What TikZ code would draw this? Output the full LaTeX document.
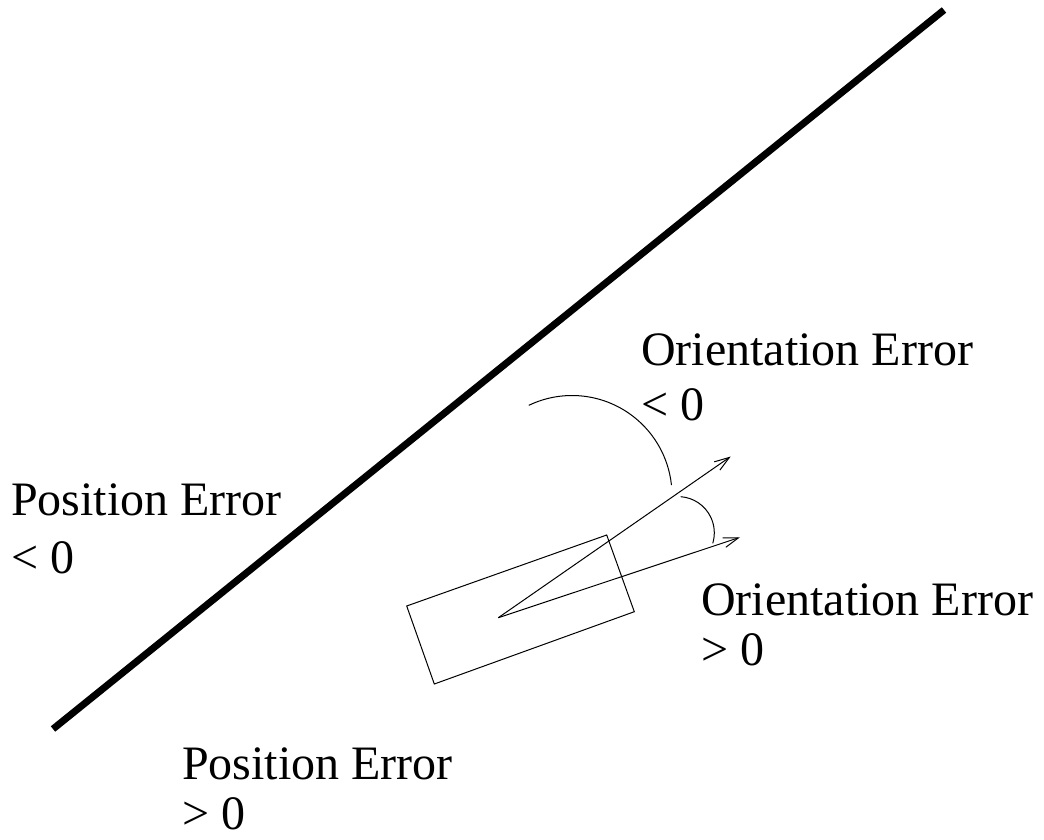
\documentclass[tikz,border=0pt]{standalone}
\usepackage{fontspec}
\setmainfont{Liberation Serif}
\usetikzlibrary{arrows.meta}
\tikzset{
  thin line/.style={line width=1pt, black},
  wall/.style={line width=7pt, black},
  vec/.style={thin line, -{Straight Barb[length=15pt,width=10pt,line width=1pt]}},
  lbl/.style={anchor=base west, inner sep=0pt, text depth=0pt, font=\fontsize{48}{56}\selectfont}
}
\begin{document}
\begin{tikzpicture}[x=1pt,y=-1pt]
\useasboundingbox (0,0) rectangle (1044,840);
% wall line
\coordinate (w1) at (53,729);
\coordinate (w2) at (944,10);
\draw[wall] (w1) -- (w2);
% robot body
\coordinate (r1) at (406.7,606);
\coordinate (r2) at (606.7,535);
\coordinate (r3) at (634.3,611.7);
\coordinate (r4) at (434.3,684);
\draw[thin line] (r1) -- (r2) -- (r3) -- (r4) -- cycle;
% orientation vectors
\coordinate (o) at (498.3,617.7);
\coordinate (t1) at (730.7,456.5);
\coordinate (t2) at (740,537.3);
\draw[vec] (o) -- (t1);
\draw[vec] (o) -- (t2);
% angle arcs
\draw[thin line] ([shift={(-115.6:100)}]572,495.5) arc[start angle=-115.6, end angle=-6, radius=100];
\draw[thin line] ([shift={(-85.9:36.2)}]678.1,532.8) arc[start angle=-85.9, end angle=16.9, radius=36.2];
% labels
\node[lbl] (oe1a) at (641,365) {Orientation Error};
\node[lbl] (oe1b) at (641,420) {< 0};
\node[lbl] (pe1a) at (11,515) {Position Error};
\node[lbl] (pe1b) at (11,573) {< 0};
\node[lbl] (oe2a) at (701,615) {Orientation Error};
\node[lbl] (oe2b) at (701,665) {> 0};
\node[lbl] (pe2a) at (182,779) {Position Error};
\node[lbl] (pe2b) at (182,829) {> 0};
\end{tikzpicture}
\end{document}
